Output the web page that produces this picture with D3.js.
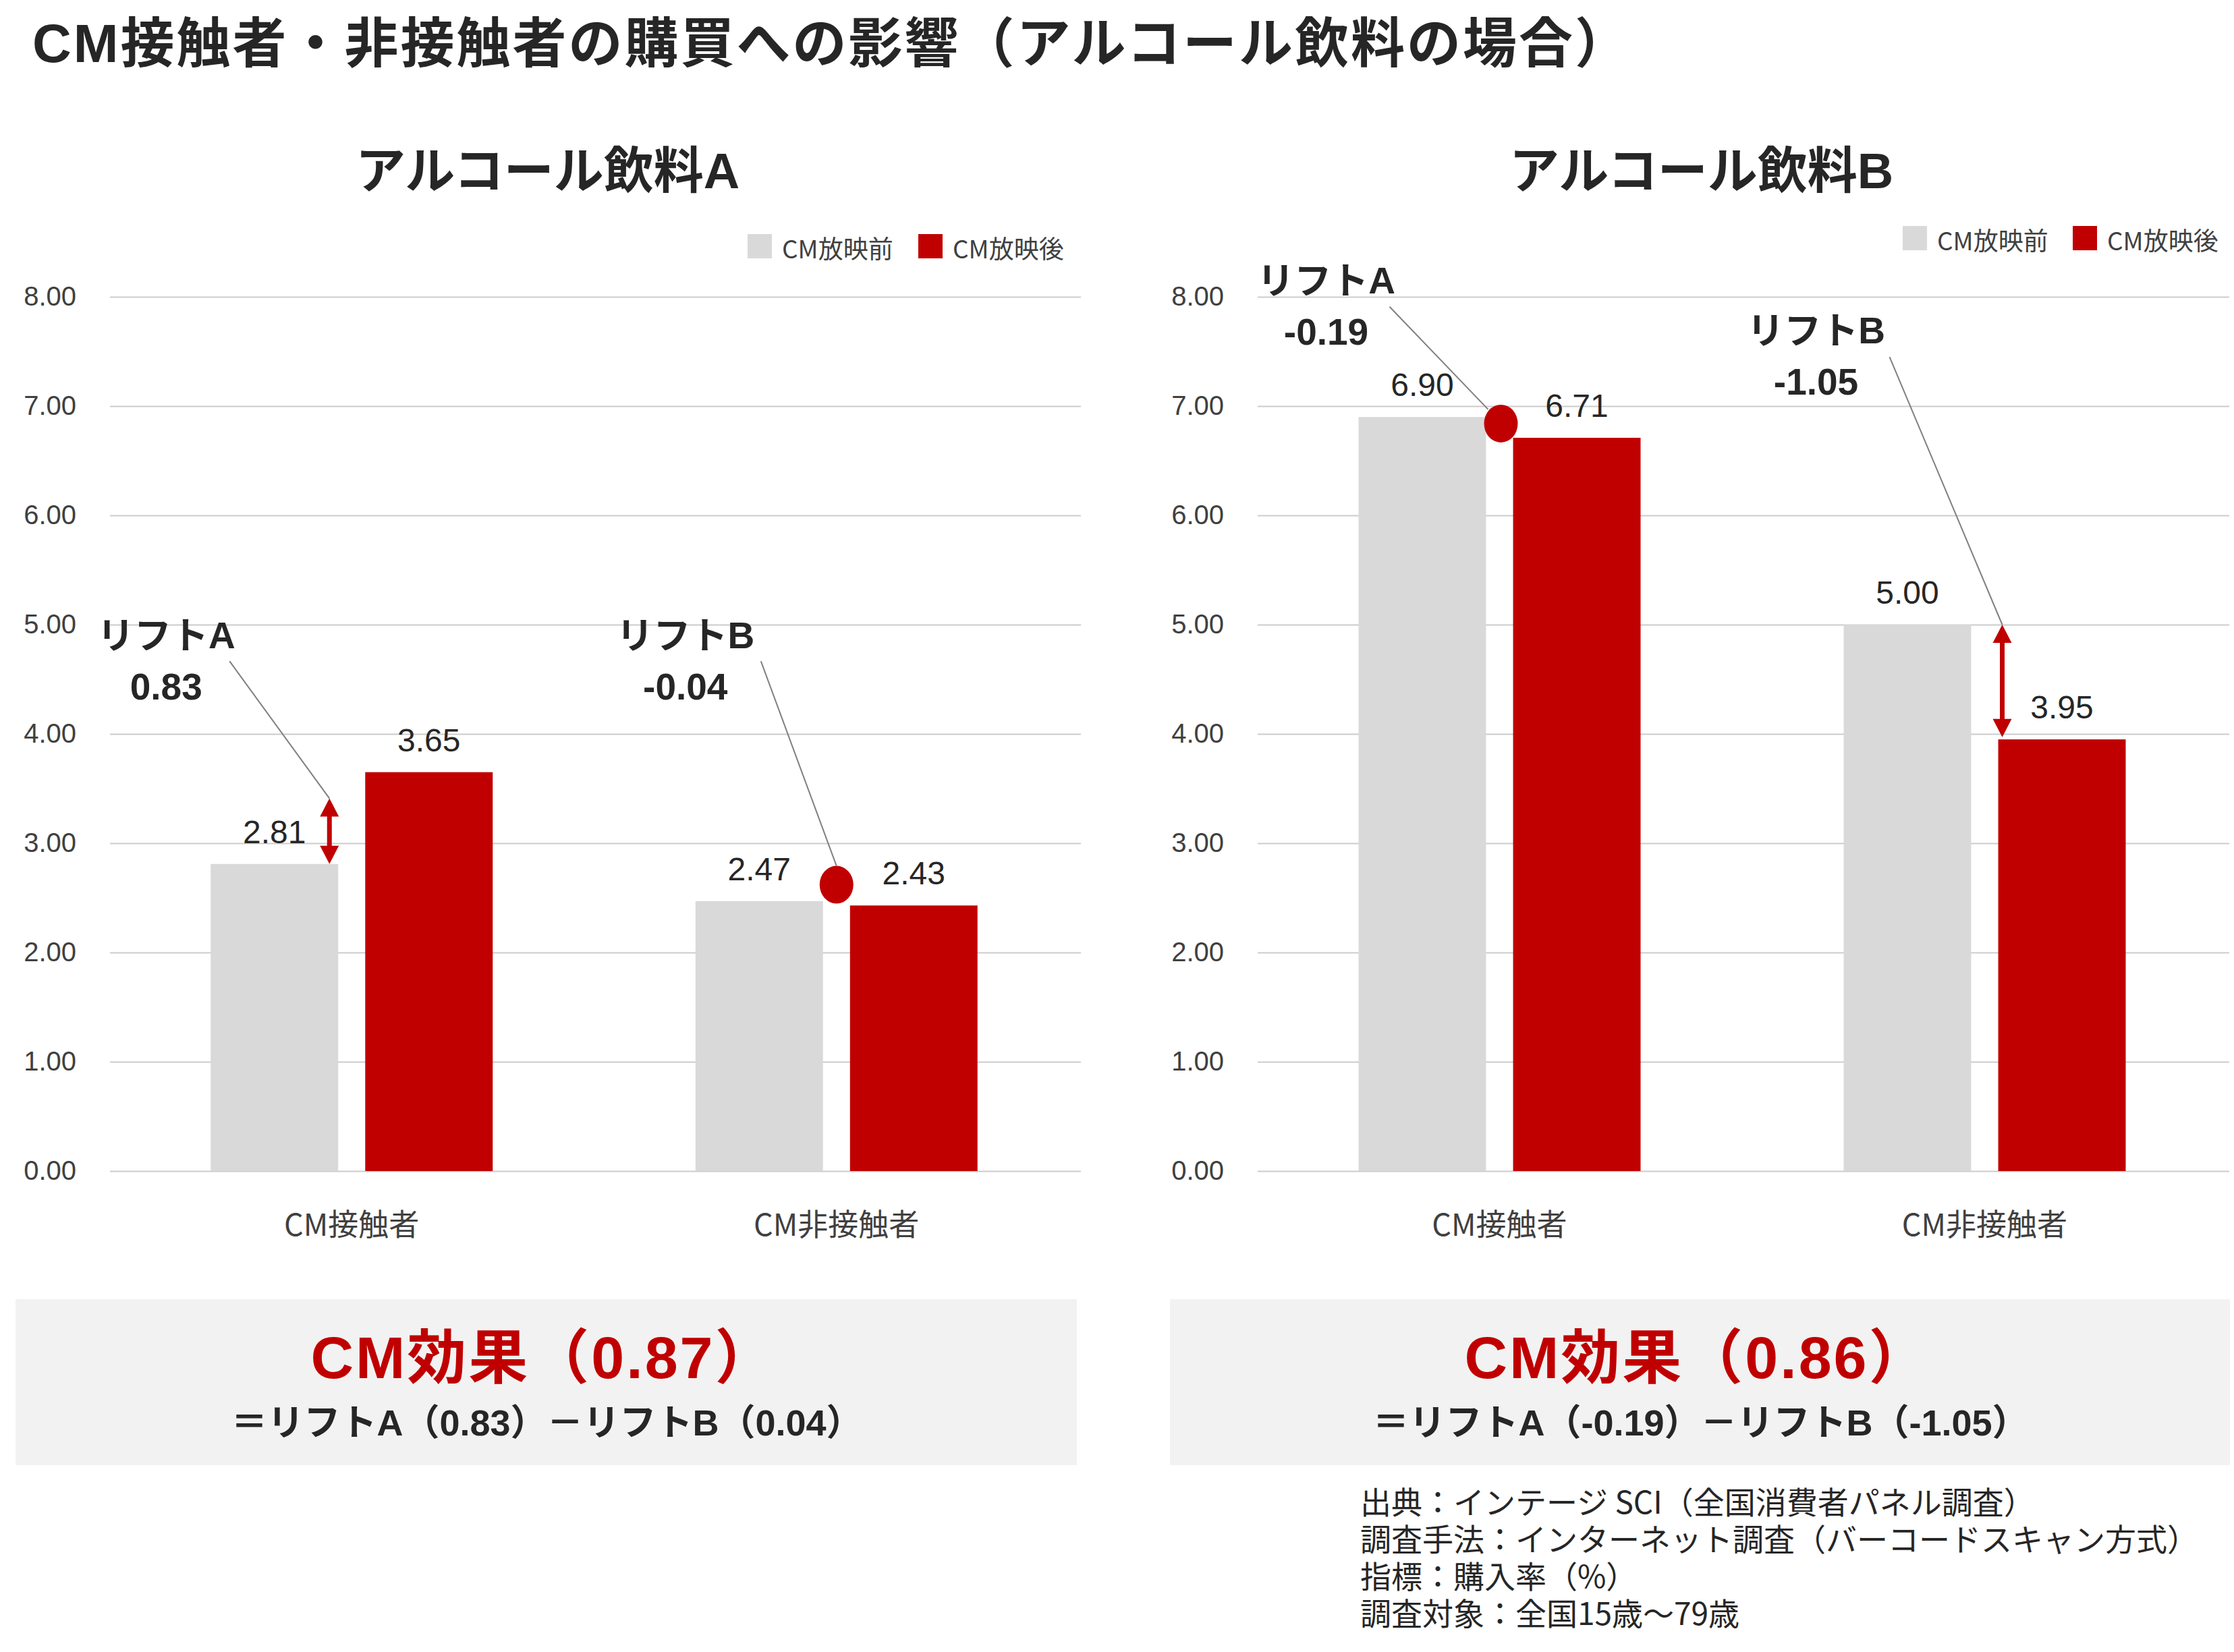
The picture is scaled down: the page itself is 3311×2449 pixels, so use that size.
<!DOCTYPE html>
<html><head><meta charset="utf-8">
<script src="https://cdn.jsdelivr.net/npm/d3@7"></script>
<style>
body{margin:0;background:#fff;}
svg{display:block;}
</style></head><body>
<svg id="chart" width="3311" height="2449"></svg>
<script>
// ---------- DATA ----------
const mainTitle = "CM接触者・非接触者の購買への影響（アルコール飲料の場合）";
const panelTitles = ["アルコール飲料A", "アルコール飲料B"];
const categories = ["CM接触者", "CM非接触者"];
const seriesNames = ["CM放映前", "CM放映後"];
const drinkA_before = [2.81, 2.47];
const drinkA_after  = [3.65, 2.43];
const drinkB_before = [6.90, 5.00];
const drinkB_after  = [6.71, 3.95];
const yTicks = [0, 1, 2, 3, 4, 5, 6, 7, 8];
const liftA = [0.83, -0.19];          // per drink
const liftB = [-0.04, -1.05];         // per drink
const cmEffect = [0.87, 0.86];        // per drink
// annotation markers
const drinkA_arrow = {cat: "CM接触者", from: 2.81, to: 3.41};
const drinkA_dot   = {cat: "CM非接触者", value: 2.62};
const drinkB_dot   = {cat: "CM接触者", value: 6.84};
const drinkB_arrow = {cat: "CM非接触者", from: 5.00, to: 3.97};
const labelLevelsA = [4.90, 4.90];     // y-level of "リフトA"/"リフトB" labels, drink A
const labelLevelsB = [8.15, 7.69];     // drink B
const notes = [
  "出典：インテージ SCI（全国消費者パネル調査）",
  "調査手法：インターネット調査（バーコードスキャン方式）",
  "指標：購入率（%）",
  "調査対象：全国15歳～79歳"
];

// ---------- STYLE ----------
const RED = "#c00000", GREY = "#d9d9d9", TXT = "#262626", AX = "#404040";
const FONT = "'Liberation Sans', 'Noto Sans CJK JP', sans-serif";
const CJK = "'Noto Sans CJK JP', 'Liberation Sans', sans-serif";
const fmt2 = d3.format(".2f");
const fmtS = v => (v < 0 ? "-" : "") + fmt2(Math.abs(v));

const svg = d3.select("#chart");
svg.append("rect").attr("width", 3311).attr("height", 2449).attr("fill", "#fff");

svg.append("text").attr("x", 48).attr("y", 64)
  .attr("dominant-baseline", "central")
  .attr("font-family", FONT).attr("font-weight", 700).attr("font-size", 80)
  .attr("letter-spacing", 3)
  .attr("fill", TXT).text(mainTitle);

const y = d3.scaleLinear().domain([0, 8]).range([1736, 440]);

const panels = [
  {before: drinkA_before, after: drinkA_after, xL: 162, xR: 1599,
   legendY: 365, legendX: [-491, -238], box: [23, 1596],
   lifts: [liftA[0], liftB[0]], effect: cmEffect[0], levels: labelLevelsA,
   labelDx: [-275, -224],
   markers: [
     {kind: "arrow", d: drinkA_arrow, dx: -33},
     {kind: "dot", d: drinkA_dot, dx: 0}
   ],
   lead: [[94, 38, 0, 0], [112, 38, 0, -28]]},
  {before: drinkB_before, after: drinkB_after, xL: 1863, xR: 3301,
   legendY: 353, legendX: [-481, -229], box: [1734, 3305],
   lifts: [liftA[1], liftB[1]], effect: cmEffect[1], levels: labelLevelsB,
   labelDx: [-257, -250],
   markers: [
     {kind: "dot", d: drinkB_dot, dx: 2},
     {kind: "arrow", d: drinkB_arrow, dx: 26}
   ],
   lead: [[94, 39, -19, -21], [109, 39, 0, 0]]}
];

panels.forEach((p, i) => {
  const g = svg.append("g");
  const x0 = d3.scaleBand().domain(categories).range([p.xL, p.xR]).paddingInner(0).paddingOuter(0);
  const groupW = 418;
  const x1 = d3.scaleBand().domain(seriesNames).range([0, groupW]).paddingInner(0.175).paddingOuter(0);
  const cx = c => x0(c) + x0.bandwidth() / 2;
  const boxC = (p.box[0] + p.box[1]) / 2;

  // panel title (centred on the summary box)
  g.append("text").attr("x", boxC + 2).attr("y", 253)
    .attr("text-anchor", "middle").attr("dominant-baseline", "central")
    .attr("font-family", FONT).attr("font-weight", 700).attr("font-size", 74)
    .attr("fill", TXT).text(panelTitles[i]);

  // legend
  seriesNames.forEach((s, k) => {
    const lx = p.xR + p.legendX[k];
    g.append("rect").attr("x", lx).attr("y", p.legendY - 18).attr("width", 36).attr("height", 36)
      .attr("fill", k === 0 ? GREY : RED);
    g.append("text").attr("x", lx + 51).attr("y", p.legendY + 2)
      .attr("dominant-baseline", "central")
      .attr("font-family", CJK).attr("font-size", 37).attr("fill", AX).text(s);
  });

  // y axis with gridlines
  const axis = d3.axisLeft(y).tickValues(yTicks).tickFormat(fmt2)
    .tickSize(-(p.xR - p.xL + 2)).tickPadding(50);
  const ag = g.append("g").attr("transform", `translate(${p.xL + 1},0)`).call(axis);
  ag.select(".domain").remove();
  ag.selectAll(".tick line").attr("stroke", "#cccccc").attr("stroke-width", 2);
  ag.selectAll(".tick text").attr("font-family", FONT).attr("font-size", 40).attr("fill", AX);

  // bars
  const rows = categories.map((c, j) => ({cat: c, vals: [p.before[j], p.after[j]]}));
  const grp = g.selectAll(".grp").data(rows).join("g")
    .attr("transform", d => `translate(${cx(d.cat) - groupW / 2},0)`);
  grp.selectAll("rect").data(d => d.vals.map((v, k) => ({s: seriesNames[k], v})))
    .join("rect")
    .attr("x", d => x1(d.s)).attr("width", x1.bandwidth())
    .attr("y", d => y(d.v)).attr("height", d => y(0) - y(d.v))
    .attr("fill", d => d.s === seriesNames[0] ? GREY : RED);
  grp.selectAll("text.val").data(d => d.vals.map((v, k) => ({s: seriesNames[k], v})))
    .join("text").attr("class", "val")
    .attr("x", d => x1(d.s) + x1.bandwidth() / 2).attr("y", d => y(d.v) - 31)
    .attr("text-anchor", "middle")
    .attr("font-family", FONT).attr("font-size", 48).attr("fill", TXT)
    .text(d => fmt2(d.v));

  // category labels
  g.selectAll("text.cat").data(categories).join("text").attr("class", "cat")
    .attr("x", d => cx(d)).attr("y", 1812)
    .attr("text-anchor", "middle").attr("dominant-baseline", "central")
    .attr("font-family", CJK).attr("font-size", 45).attr("fill", AX).text(d => d);

  // annotations
  const names = ["リフトA", "リフトB"];
  p.markers.forEach((m, k) => {
    const lx = cx(categories[k]) + p.labelDx[k];
    const ly = y(p.levels[k]);
    g.append("text").attr("x", lx).attr("y", ly).attr("text-anchor", "middle")
      .attr("dominant-baseline", "central")
      .attr("font-family", FONT).attr("font-weight", 700).attr("font-size", 55)
      .attr("fill", TXT).text(names[k]);
    g.append("text").attr("x", lx).attr("y", ly + 76).attr("text-anchor", "middle")
      .attr("dominant-baseline", "central")
      .attr("font-family", FONT).attr("font-weight", 700).attr("font-size", 55)
      .attr("fill", TXT).text(fmtS(p.lifts[k]));

    const mx = cx(m.d.cat) + m.dx;
    let ex, ey;
    if (m.kind === "arrow") {
      const yt = Math.min(y(m.d.from), y(m.d.to));
      const yb = Math.max(y(m.d.from), y(m.d.to));
      const hl = 27, hw = 14;
      g.append("line").attr("x1", mx).attr("x2", mx).attr("y1", yt + hl - 2).attr("y2", yb - hl + 2)
        .attr("stroke", RED).attr("stroke-width", 7);
      g.append("path").attr("d", `M${mx},${yt} L${mx - hw},${yt + hl} L${mx + hw},${yt + hl} Z`).attr("fill", RED);
      g.append("path").attr("d", `M${mx},${yb} L${mx - hw},${yb - hl} L${mx + hw},${yb - hl} Z`).attr("fill", RED);
      ex = mx; ey = yt;
    } else {
      const ccy = y(m.d.value);
      g.append("ellipse").attr("cx", mx).attr("cy", ccy).attr("rx", 25).attr("ry", 28).attr("fill", RED);
      ex = mx; ey = ccy;
    }
    const ld = p.lead[k];
    const sx = lx + ld[0], sy = ly + ld[1];
    let tx = ex + ld[2], ty = ey + ld[3];
    g.append("line").attr("x1", sx).attr("y1", sy).attr("x2", tx).attr("y2", ty)
      .attr("stroke", "#808080").attr("stroke-width", 2);
  });

  // summary box
  const bx = p.box[0], bw = p.box[1] - p.box[0];
  g.append("rect").attr("x", bx).attr("y", 1926).attr("width", bw).attr("height", 246).attr("fill", "#f2f2f2");
  g.append("text").attr("x", boxC - 4).attr("y", 2012)
    .attr("text-anchor", "middle").attr("dominant-baseline", "central")
    .attr("font-family", FONT).attr("font-weight", 700).attr("font-size", 88)
    .attr("letter-spacing", 3)
    .attr("fill", RED).text(`CM効果（${fmt2(p.effect)}）`);
  g.append("text").attr("x", boxC + 1).attr("y", 2109)
    .attr("text-anchor", "middle").attr("dominant-baseline", "central")
    .attr("font-family", FONT).attr("font-weight", 700).attr("font-size", 54)
    .attr("fill", TXT)
    .text(`＝リフトA（${fmtS(p.lifts[0])}）－リフトB（${fmtS(Math.abs(p.lifts[1]) === 0.04 ? 0.04 : p.lifts[1])}）`);
});

// notes
svg.append("g").selectAll("text").data(notes).join("text")
  .attr("x", 2016).attr("y", (d, i) => 2224 + i * 55)
  .attr("dominant-baseline", "central")
  .attr("font-family", CJK).attr("font-size", 46).attr("fill", TXT).text(d => d);
</script>
</body></html>
